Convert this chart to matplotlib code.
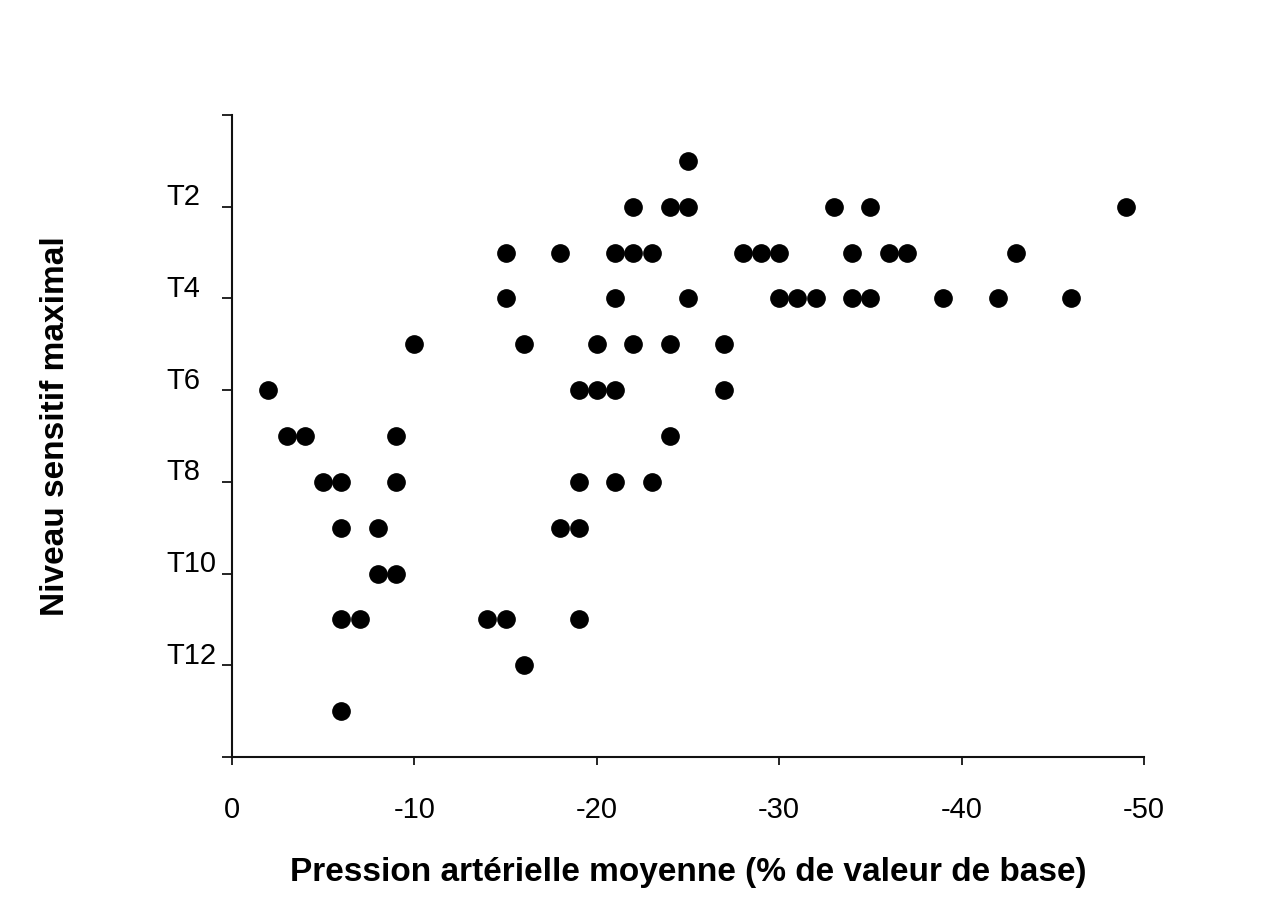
import matplotlib
matplotlib.use("Agg")
import matplotlib.pyplot as plt
from matplotlib.transforms import ScaledTranslation

plt.rcParams['font.family'] = ['Liberation Sans', 'DejaVu Sans']
plt.rcParams['axes.unicode_minus'] = False

# Data: blood pressure change (% of baseline) vs maximal sensory level (T-level)
pressure = [-25,
            -22, -24, -25, -33, -35, -49,
            -15, -18, -21, -22, -23, -28, -29, -30, -34, -36, -37, -43,
            -15, -21, -25, -30, -31, -32, -34, -35, -39, -42, -46,
            -10, -16, -20, -22, -24, -27,
            -2, -19, -20, -21, -27,
            -3, -4, -9, -24,
            -5, -6, -9, -19, -21, -23,
            -6, -8, -18, -19,
            -8, -9,
            -6, -7, -14, -15, -19,
            -16,
            -6]
level = [1,
         2, 2, 2, 2, 2, 2,
         3, 3, 3, 3, 3, 3, 3, 3, 3, 3, 3, 3,
         4, 4, 4, 4, 4, 4, 4, 4, 4, 4, 4,
         5, 5, 5, 5, 5, 5,
         6, 6, 6, 6, 6,
         7, 7, 7, 7,
         8, 8, 8, 8, 8, 8,
         9, 9, 9, 9,
         10, 10,
         11, 11, 11, 11, 11,
         12,
         13]

x_ticks = [0, -10, -20, -30, -40, -50]
x_tick_labels = ["0", "-10", "-20", "-30", "-40", "-50"]
y_ticks = [0, 2, 4, 6, 8, 10, 12, 14]
y_tick_labels = ["", "T2", "T4", "T6", "T8", "T10", "T12", ""]

fig = plt.figure(figsize=(12.78, 9.01), dpi=100)
ax = fig.add_axes([232/1278, 1 - 757/901, (1144-232)/1278, (757-115)/901])

ax.scatter(pressure, level, s=155, color='black', zorder=3, clip_on=False)

ax.set_xlim(0, -50)
ax.set_ylim(14, 0)
ax.set_xticks(x_ticks)
ax.set_xticklabels(x_tick_labels)
ax.set_yticks(y_ticks)
ax.set_yticklabels(y_tick_labels)

for s in ['top', 'right']:
    ax.spines[s].set_visible(False)
for s in ['left', 'bottom']:
    ax.spines[s].set_linewidth(1.5)
    ax.spines[s].set_color('#111111')

ax.tick_params(axis='x', direction='out', length=6, width=1.2, labelsize=21, pad=22)
ax.tick_params(axis='y', direction='out', length=7, width=1.2, labelsize=21, pad=40)

off = ScaledTranslation(0, 9/72, fig.dpi_scale_trans)
for lbl in ax.get_yticklabels():
    lbl.set_horizontalalignment('left')
    lbl.set_transform(lbl.get_transform() + off)

ax.set_xlabel("Pression artérielle moyenne (% de valeur de base)",
              fontsize=24, fontweight='bold')
ax.xaxis.set_label_coords(0.5, -(857 - 757) / 642)
ax.set_ylabel("Niveau sensitif maximal", fontsize=24, fontweight='bold')
ax.yaxis.set_label_coords(-(232 - 71) / 912, (757 - 426) / 642)

fig.savefig("out.png", dpi=100, facecolor='white')
